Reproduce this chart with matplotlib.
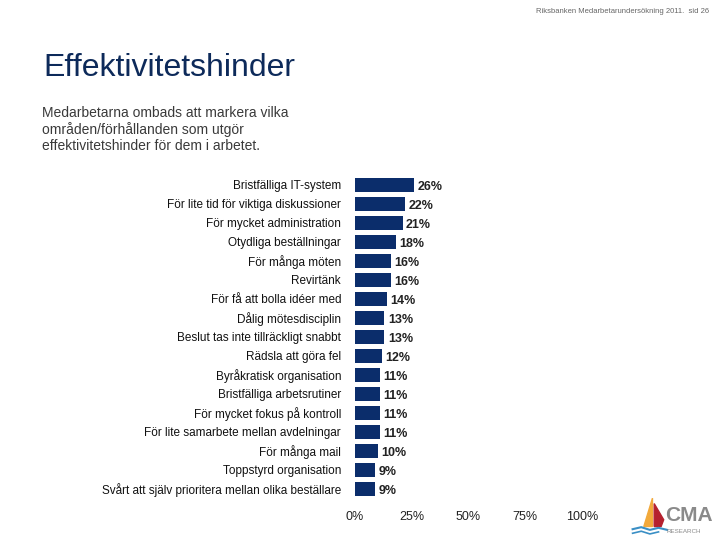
import matplotlib
matplotlib.use("Agg")
import matplotlib.pyplot as plt
from matplotlib.patches import Polygon

plt.rcParams['font.family'] = ['Liberation Sans', 'DejaVu Sans']

categories = [
    "Bristfälliga IT-system",
    "För lite tid för viktiga diskussioner",
    "För mycket administration",
    "Otydliga beställningar",
    "För många möten",
    "Revirtänk",
    "För få att bolla idéer med",
    "Dålig mötesdisciplin",
    "Beslut tas inte tillräckligt snabbt",
    "Rädsla att göra fel",
    "Byråkratisk organisation",
    "Bristfälliga arbetsrutiner",
    "För mycket fokus på kontroll",
    "För lite samarbete mellan avdelningar",
    "För många mail",
    "Toppstyrd organisation",
    "Svårt att själv prioritera mellan olika beställare",
]
values = [26, 22, 21, 18, 16, 16, 14, 13, 13, 12, 11, 11, 11, 11, 10, 9, 9]
xticks = [0, 25, 50, 75, 100]

bar_color = "#0b2d6b"

fig = plt.figure(figsize=(7.2, 5.4), dpi=100)
fig.patch.set_facecolor("white")

# header texts
fig.text(0.985, 0.985, "Riksbanken Medarbetarundersökning 2011.  sid 26",
         ha="right", va="top", fontsize=5.5, color="#666666")
fig.text(0.060, 0.874, "Effektivitetshinder", ha="left", va="center",
         fontsize=23, color="#0d2a5a")
fig.text(0.058, 0.760,
         "Medarbetarna ombads att markera vilka\nområden/förhållanden som utgör\neffektivitetshinder för dem i arbetet.",
         ha="left", va="center", fontsize=10, color="#3a3a3a", linespacing=1.15)

ax = fig.add_axes([0.493, 0.077, 0.315, 0.598])
y = list(range(len(categories)))
ax.barh(y, values, height=0.78, color=bar_color)
for yi, v in zip(y, values):
    ax.text(v + 1.5, yi + 0.1, f"{v}%", va="center", ha="left",
            fontsize=9, color="#222222", fontweight="bold")

ax.set_ylim(len(categories) - 0.5, -0.5)
ax.set_xlim(0, 100)
ax.set_yticks(y)
ax.set_yticklabels(categories, fontsize=8.5, color="#111111")
ax.tick_params(axis="y", length=0, pad=10)
ax.set_xticks(xticks)
ax.set_xticklabels([f"{t}%" for t in xticks], fontsize=9, color="#222222")
ax.tick_params(axis="x", length=0, pad=9)
for s in ax.spines.values():
    s.set_visible(False)

# logo (CMA Research)
lax = fig.add_axes([0.875, 0.005, 0.12, 0.075])
lax.set_xlim(0, 10)
lax.set_ylim(0, 6)
lax.axis("off")
lax.add_patch(Polygon([[1.6, 1.6], [2.6, 5.8], [2.6, 1.6]], color="#f2a93b"))
lax.add_patch(Polygon([[2.8, 1.6], [2.8, 5.0], [3.9, 2.6], [3.6, 1.6]], color="#b5202e"))
lax.plot([0.3, 1.3, 2.3, 3.3, 4.3], [1.2, 1.5, 1.1, 1.4, 1.1], color="#3a8fc5", lw=1.5)
lax.plot([0.3, 1.3, 2.3, 3.3], [0.6, 0.9, 0.5, 0.8], color="#3a8fc5", lw=1.2)
lax.text(4.1, 3.2, "CMA", fontsize=15, color="#8a8a8a", fontweight="bold", va="center")
lax.text(4.2, 0.8, "RESEARCH", fontsize=4.5, color="#8a8a8a", va="center")

fig.savefig("out.png", dpi=100, facecolor="white")
